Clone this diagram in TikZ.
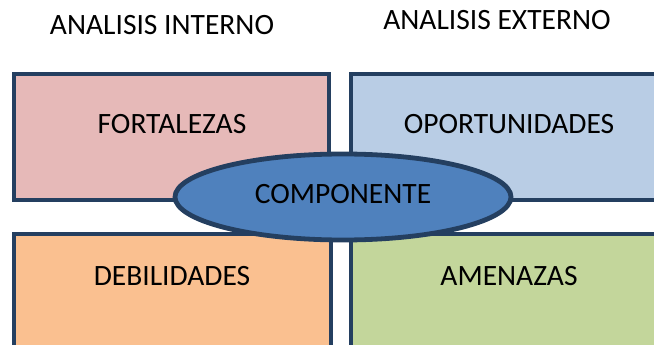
\documentclass[tikz,border=0pt]{standalone}
\usepackage{fontspec}
\setmainfont{Carlito}
\usetikzlibrary{shapes.geometric}

\definecolor{borde}{HTML}{243F60}
\definecolor{rosa}{HTML}{E6B9B8}
\definecolor{celeste}{HTML}{B9CDE5}
\definecolor{naranja}{HTML}{FAC090}
\definecolor{verde}{HTML}{C3D69B}
\definecolor{azul}{HTML}{4F81BD}

\begin{document}
\begin{tikzpicture}[
        x=1pt, y=-1pt,
        cuadro/.style={rectangle, draw=borde, line width=4.8pt, inner sep=0pt},
        arriba/.style={cuadro, minimum width=315pt, minimum height=126pt},
        abajo/.style={cuadro, minimum width=317pt, minimum height=131pt},
        texto/.style={font=\fontsize{29.5}{35}\selectfont, inner sep=0pt},
        centro/.style={ellipse, draw=borde, fill=azul, line width=4.8pt,
            minimum width=336pt, minimum height=86pt, inner sep=0pt}
    ]
        \useasboundingbox (0,0) rectangle (654,345);
        \clip (0,0) rectangle (654,345);

        % Titulos
        \node[texto] (interno) at (162,25) {ANALISIS INTERNO};
        \node[texto] (externo) at (497,20) {ANALISIS EXTERNO};

        % Cuadrantes
        \node[arriba, fill=rosa] (F) at (171.5,137) {};
        \node[arriba, fill=celeste, minimum width=317pt] (O) at (509.5,137) {};
        \node[abajo, fill=naranja] (D) at (172.5,299.5) {};
        \node[abajo, fill=verde] (A) at (509.5,299.5) {};

        \node[texto] (tF) at (172,124) {FORTALEZAS};
        \node[texto] (tO) at (509,124) {OPORTUNIDADES};
        \node[texto] (tD) at (172,276) {DEBILIDADES};
        \node[texto] (tA) at (509,276) {AMENAZAS};

        % Elipse central
        \node[centro] (C) at (343,197) {};
        \node[texto] (tC) at (343,194) {COMPONENTE};
    \end{tikzpicture}
\end{document}
